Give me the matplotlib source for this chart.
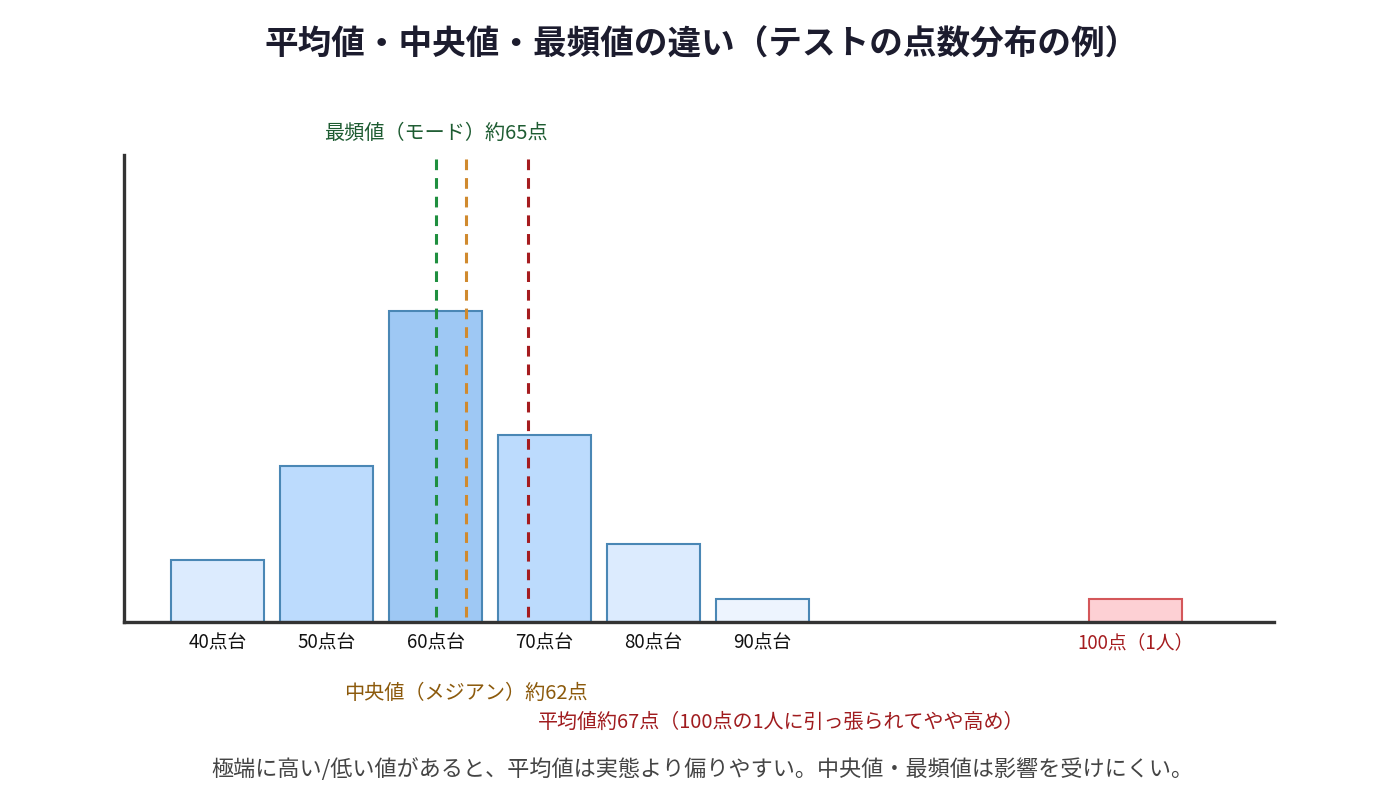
import matplotlib.pyplot as plt

plt.rcParams['font.family'] = ['Noto Sans CJK JP', 'DejaVu Sans']

# データ（テストの点数分布）
labels = ['40点台', '50点台', '60点台', '70点台', '80点台', '90点台', '100点（1人）']
counts = [2, 5, 10, 6, 2.5, 0.75, 0.75]
fills = ['#dcebfe', '#bcdbfd', '#9ec8f4', '#bcdbfd', '#dcebfe', '#edf4fe', '#fdd0d4']
edges = ['#4a87b5'] * 6 + ['#d4575a']

mode_score = 65
median_score = 62
mean_score = 67

# 横位置（100点は離して置く）
xpos = [0, 1, 2, 3, 4, 5, 8.42]
line_x = {'mode': 2.0, 'median': 2.28, 'mean': 2.85}

fig = plt.figure(figsize=(14, 8.09), dpi=100)
ax = fig.add_axes([124/1400, 187/809, 1150/1400, 467/809])

ax.bar(xpos, counts, width=0.853, color=fills, edgecolor=edges, linewidth=1.5, zorder=2)

ax.vlines(line_x['mode'], 0.16, 15, colors='#1f8f3f', linestyles=(0, (3.5, 2.6)), linewidth=2.2, zorder=3)
ax.vlines(line_x['median'], 0.16, 15, colors='#d08a2e', linestyles=(0, (3.5, 2.6)), linewidth=2.2, zorder=3)
ax.vlines(line_x['mean'], 0.16, 15, colors='#a51c1f', linestyles=(0, (3.5, 2.6)), linewidth=2.2, zorder=3)

ax.set_xlim(-0.858, 9.693)
ax.set_ylim(0, 15)
ax.set_xticks([])
ax.set_yticks([])
for s in ['top', 'right']:
    ax.spines[s].set_visible(False)
for s in ['left', 'bottom']:
    ax.spines[s].set_color('#333333')
    ax.spines[s].set_linewidth(2.4)

# 目盛りラベル
for i, lab in enumerate(labels):
    c = '#a51c1f' if i == 6 else '#111111'
    ax.text(xpos[i], -0.68, lab, ha='center', va='center', fontsize=13.5, color=c)

ax.text(line_x['mode'], 15.68, f'最頻値（モード）約{mode_score}点', ha='center', va='center',
        fontsize=14.5, color='#1e5c32', clip_on=False)
ax.text(line_x['median'], -2.3, f'中央値（メジアン）約{median_score}点', ha='center', va='center',
        fontsize=14.5, color='#8c5a0c', clip_on=False)
fig.text(781/1400, 1 - 722/809, f'平均値約{mean_score}点（100点の1人に引っ張られてやや高め）',
         ha='center', va='center', fontsize=14.4, color='#a01c1f')

fig.text(702/1400, 1 - 45/809, '平均値・中央値・最頻値の違い（テストの点数分布の例）',
         ha='center', va='center', fontsize=24.2, fontweight='bold', color='#1c1c2e')
fig.text(702/1400, 1 - 770/809, '極端に高い/低い値があると、平均値は実態より偏りやすい。中央値・最頻値は影響を受けにくい。',
         ha='center', va='center', fontsize=15.9, color='#444444')

fig.savefig('out.png', dpi=100)
